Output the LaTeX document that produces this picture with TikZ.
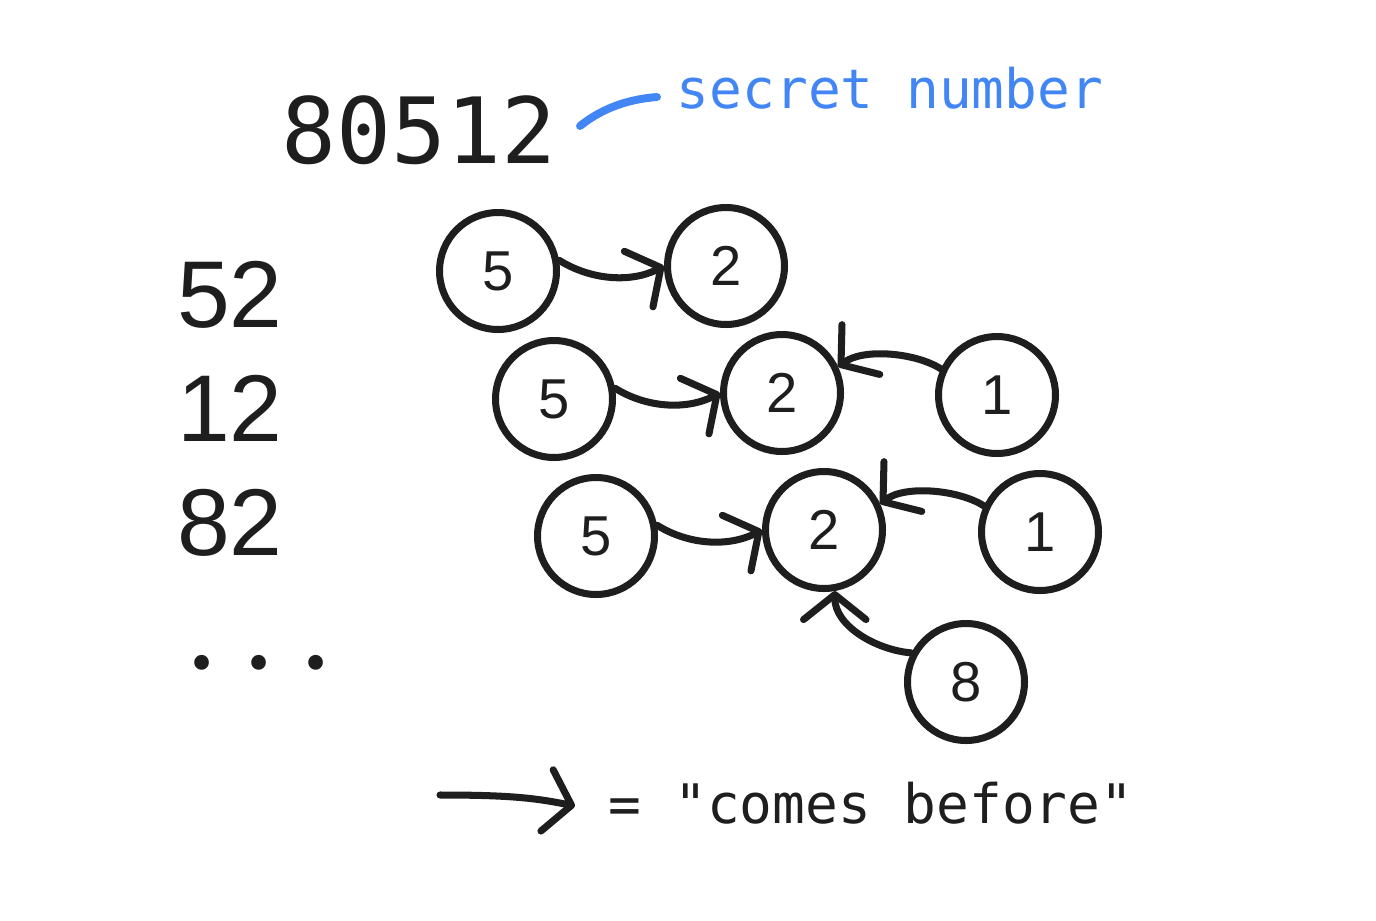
\documentclass[tikz,border=0pt]{standalone}
\usepackage{xcolor}
\usepackage{fontspec}
\setmainfont{Liberation Sans}
\newfontfamily\codefont{DejaVu Sans Mono}
\newfontfamily\dotfont{Poppins}
\usepackage{tikz}
\usetikzlibrary{positioning, arrows.meta}

\definecolor{ink}{HTML}{1E1E1E}
\definecolor{hint}{HTML}{4285F4}

\tikzset{
    digit/.style={circle, draw=ink, line width=4pt, minimum size=2.34cm, inner sep=0pt, text=ink, font=\fontsize{32}{32}\selectfont},
    before/.style={draw=ink, line width=4pt, line cap=round, -{Straight Barb[length=0.5cm, width=1.25cm, round]}},
    bigcode/.style={anchor=base, text=ink, font=\codefont\fontsize{52}{52}\selectfont},
    smallcode/.style={anchor=base, font=\codefont\fontsize{31}{31}\selectfont},
    bignum/.style={anchor=base, text=ink, font=\fontsize{54}{54}\selectfont}
}

\begin{document}
\begin{tikzpicture}[x=0.02cm, y=-0.02cm]
    \fill[white] (0,0) rectangle (1376,920);
    \useasboundingbox (0,0) rectangle (1376,920);
    \node[bigcode] (N) at (419,163) {80512};
    \node[smallcode, text=hint] (T) at (890,108) {secret number};
    \coordinate (S1) at (580,126);
    \coordinate (S2) at (657,97);
    \draw[hint, line width=4.5pt, line cap=round] (S1) .. controls +(25,-20) and +(-25,2) .. (S2);
    \node[bignum] (R1) at (230,327) {52};
    \node[bignum] (R2) at (230,441) {12};
    \node[bignum] (R3) at (230,555) {82};
    \node[anchor=base, text=ink, font=\dotfont\fontsize{68}{68}\selectfont] (R4) at (259,669) {.\hspace{0.63cm}.\hspace{0.63cm}.};
    % 52
    \node[digit] (A5) at (498,271) {5};
    \node[digit] (A2) at (726,266) {2};
    \draw[before] (A5.10) .. controls +(32,20) and +(-33,17) .. (A2.180);
    % 12
    \node[digit] (B5) at (554,399) {5};
    \node[digit] (B2) at (782,393) {2};
    \node[digit] (B1) at (997,395) {1};
    \draw[before] (B5.10) .. controls +(32,20) and +(-33,17) .. (B2.180);
    \draw[before] (B1.155) .. controls +(-25,-16) and +(25,-19) .. (B2.25);
    % 82
    \node[digit] (C5) at (596,536) {5};
    \node[digit] (C2) at (824,530) {2};
    \node[digit] (C1) at (1040,532) {1};
    \node[digit] (C8) at (966,682) {8};
    \draw[before] (C5.10) .. controls +(32,20) and +(-33,17) .. (C2.180);
    \draw[before] (C1.155) .. controls +(-25,-16) and +(25,-19) .. (C2.25);
    \draw[before] (C8.152) .. controls +(-35,-3) and +(0,35) .. (C2.-80);
    % key
    \coordinate (L1) at (440,795);
    \coordinate (L2) at (575,806);
    \draw[before] (L1) .. controls +(70,0) and +(-40,-8) .. (L2);
    \node[smallcode, text=ink] (K) at (871,823) {= "comes before"};
\end{tikzpicture}
\end{document}
